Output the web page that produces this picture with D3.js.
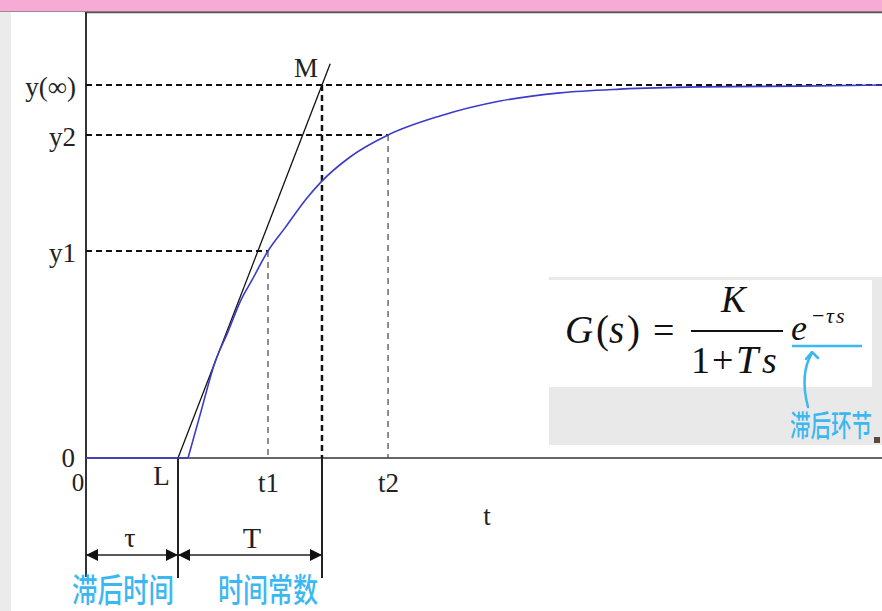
<!DOCTYPE html>
<html>
<head>
<meta charset="utf-8">
<script src="https://cdn.jsdelivr.net/npm/d3@7/dist/d3.min.js"></script>
<style>
  html, body { margin: 0; padding: 0; background: #fff; }
  svg { display: block; }
  .lbl { font-family: "Liberation Serif", "Times New Roman", serif; fill: #222; }
  .cn { font-family: "Noto Sans CJK SC", sans-serif; fill: #3bb8f1; font-weight: 500; }
</style>
</head>
<body>
<svg id="chart" width="882" height="611"></svg>
<script>
// Step response of a first-order process with dead time (time in arbitrary units, output normalised to y(∞) = 1)
const curveT = [0, 1.109, 1.239, 1.402, 1.543, 1.685, 1.804, 1.978, 2.163, 2.402, 2.543, 2.870, 3.283, 3.848, 4.500, 5.152, 5.804, 6.674, 7.761, 8.652];
const curveY = [0, 0, 0.115, 0.257, 0.338, 0.424, 0.477, 0.555, 0.617, 0.697, 0.737, 0.807, 0.866, 0.917, 0.957, 0.979, 0.989, 0.995, 0.997, 1.0];

// Output levels marked on the vertical axis
const levelNames = ["0", "y1", "y2", "y(∞)"];
const levelValues = [0, 0.555, 0.866, 1.0];

// Time marks on the horizontal axis
const markNames = ["L", "t1", "t2"];
const markTimes = [1.0, 1.978, 3.283];

const deadTime = 1.0;       // τ (= L)
const timeConst = 1.565;    // T
const tangentReach = 1.057; // how far the tangent line runs past y(∞)

const W = 882, H = 611;
const svg = d3.select("#chart");

const x = d3.scaleLinear().domain([0, 8.652]).range([86, 882]);
const y = d3.scaleLinear().domain([0, 1]).range([458, 85]);

// page backdrop: pink header band and grey strip on the left
svg.append("rect").attr("x", 0).attr("y", 0).attr("width", W).attr("height", H).attr("fill", "#fff");
svg.append("rect").attr("x", 0).attr("y", 11).attr("width", 11).attr("height", H - 11).attr("fill", "#ebebeb");
svg.append("rect").attr("x", 0).attr("y", 0).attr("width", W).attr("height", 11).attr("fill", "#f7aad3");
svg.append("line").attr("x1", 0).attr("x2", W).attr("y1", 11.5).attr("y2", 11.5).attr("stroke", "#9a8a94").attr("stroke-width", 1);

// plot frame: top edge, vertical axis and horizontal axis
svg.append("line").attr("x1", x(0)).attr("x2", W).attr("y1", 12.5).attr("y2", 12.5).attr("stroke", "#555").attr("stroke-width", 1.5);
svg.append("line").attr("x1", x(0)).attr("x2", x(0)).attr("y1", 12).attr("y2", 577).attr("stroke", "#333").attr("stroke-width", 2);
svg.append("line").attr("x1", x(0)).attr("x2", W).attr("y1", y(0)).attr("y2", y(0)).attr("stroke", "#666").attr("stroke-width", 2);

// formula panel
svg.append("rect").attr("x", 549).attr("y", 277).attr("width", 333).attr("height", 168).attr("fill", "#e9e9e9");
svg.append("rect").attr("x", 549).attr("y", 280).attr("width", 323).attr("height", 107).attr("fill", "#fff");
svg.append("rect").attr("x", 874).attr("y", 437).attr("width", 6).attr("height", 6).attr("fill", "#5b4a3c");

// horizontal guide lines for y(∞), y2, y1
const tEnd = x.domain()[1];
const guides = [
  { v: levelValues[3], t: tEnd },
  { v: levelValues[2], t: markTimes[2] },
  { v: levelValues[1], t: markTimes[1] }
];
svg.selectAll("line.hguide").data(guides).enter().append("line")
  .attr("class", "hguide")
  .attr("x1", x(0)).attr("x2", d => x(d.t))
  .attr("y1", d => y(d.v)).attr("y2", d => y(d.v))
  .attr("stroke", "#111").attr("stroke-width", 2).attr("stroke-dasharray", "6,4");

// vertical guides from the curve down to the time axis at t1, t2
const vguides = [
  { t: markTimes[1], v: levelValues[1] },
  { t: markTimes[2], v: levelValues[2] }
];
svg.selectAll("line.vguide").data(vguides).enter().append("line")
  .attr("class", "vguide")
  .attr("x1", d => x(d.t)).attr("x2", d => x(d.t))
  .attr("y1", d => y(d.v)).attr("y2", y(0))
  .attr("stroke", "#444").attr("stroke-width", 1.2).attr("stroke-dasharray", "6,5");

// vertical line at L + T (tangent meets y(∞))
const tM = deadTime + timeConst;
svg.append("line")
  .attr("x1", x(tM)).attr("x2", x(tM)).attr("y1", y(1)).attr("y2", y(0))
  .attr("stroke", "#111").attr("stroke-width", 2.5).attr("stroke-dasharray", "6,4");

// solid marker lines below the time axis
[deadTime, tM].forEach(t => {
  svg.append("line").attr("x1", x(t)).attr("x2", x(t)).attr("y1", y(0)).attr("y2", 578)
    .attr("stroke", "#222").attr("stroke-width", 2);
});

// tangent at the inflection point
svg.append("line")
  .attr("x1", x(deadTime)).attr("y1", y(0))
  .attr("x2", x(deadTime + tangentReach * timeConst)).attr("y2", y(tangentReach))
  .attr("stroke", "#111").attr("stroke-width", 1.3);

// response curve: flat dead-time part, then the smooth rise
const pts = curveT.map((t, i) => [t, curveY[i]]);
const curveColor = "#3a3acb";
const line = d3.line().x(d => x(d[0])).y(d => y(d[1]));
svg.append("path").datum(pts.slice(0, 2))
  .attr("fill", "none").attr("stroke", curveColor).attr("stroke-width", 1.6)
  .attr("d", line);
svg.append("path").datum(pts.slice(1))
  .attr("fill", "none").attr("stroke", curveColor).attr("stroke-width", 1.6)
  .attr("d", line.curve(d3.curveMonotoneX));

// vertical axis labels
const yAxis = d3.axisLeft(y).tickValues(levelValues).tickFormat((d, i) => levelNames[i]).tickSize(0).tickPadding(10);
const gy = svg.append("g").attr("transform", `translate(${x(0)},0)`).call(yAxis);
gy.select(".domain").remove();
gy.selectAll("text").attr("class", "lbl").attr("font-size", 27).attr("dy", "0.4em")
  .attr("fill", "#222").style("font-family", '"Liberation Serif", serif');
gy.selectAll("text").filter((d, i) => i === 0).attr("x", -11).attr("dy", "0.3em");

// time axis labels
const xAxis = d3.axisBottom(x).tickValues(markTimes).tickFormat((d, i) => markNames[i]).tickSize(0).tickPadding(15);
const gx = svg.append("g").attr("transform", `translate(0,${y(0)})`).call(xAxis);
gx.select(".domain").remove();
gx.selectAll("text").attr("font-size", 27).attr("fill", "#222").style("font-family", '"Liberation Serif", serif');
gx.selectAll("text").filter((d, i) => i === 0).attr("dx", -17).attr("y", 8);

const label = (txt, cx, by, size, anchor) =>
  svg.append("text").attr("class", "lbl").attr("x", cx).attr("y", by)
    .attr("font-size", size).attr("text-anchor", anchor || "middle").text(txt);

label("0", 78, 491, 25);
label("t", 487, 525, 27);
label("M", 306, 77, 27);
label("τ", 130, 547, 28);
label("T", 252, 548, 30);

// dimension arrows for τ and T
const arrowY = 555;
function dimArrow(t0, t1) {
  const a = x(t0), b = x(t1);
  svg.append("line").attr("x1", a).attr("x2", b).attr("y1", arrowY).attr("y2", arrowY)
    .attr("stroke", "#222").attr("stroke-width", 1.5);
  svg.append("path").attr("d", `M${a},${arrowY} L${a + 12},${arrowY - 6} L${a + 12},${arrowY + 6} Z`).attr("fill", "#111");
  svg.append("path").attr("d", `M${b},${arrowY} L${b - 12},${arrowY - 6} L${b - 12},${arrowY + 6} Z`).attr("fill", "#111");
}
dimArrow(0, deadTime);
dimArrow(deadTime, tM);

// transfer function G(s) = K/(1+Ts) e^{-τs}
const ff = '"Liberation Serif", "Times New Roman", serif';
const fx = (txt, px, py, size, italic) =>
  svg.append("text").attr("x", px).attr("y", py).attr("font-size", size)
    .attr("font-style", italic ? "italic" : "normal")
    .style("font-family", ff).attr("fill", "#111").text(txt);

fx("G", 565, 343, 39, true);
fx("(", 596, 343, 39, false);
fx("s", 609, 343, 39, true);
fx(")", 627, 343, 39, false);
fx("=", 653, 343, 38, false);
fx("K", 721, 312, 37, true);
svg.append("line").attr("x1", 691).attr("x2", 783).attr("y1", 331).attr("y2", 331).attr("stroke", "#111").attr("stroke-width", 2);
fx("1", 691, 373, 38, false);
fx("+", 712, 373, 38, false);
fx("T", 736, 373, 40, true);
fx("s", 762, 373, 38, true);
fx("e", 791, 340, 36, true);
fx("−", 812, 323, 22, false);
fx("τ", 826, 323, 22, true);
fx("s", 836, 323, 22, true);

// handwritten-style notes
const accent = "#3bb8f1";
svg.append("line").attr("x1", 792).attr("x2", 862).attr("y1", 346).attr("y2", 346)
  .attr("stroke", accent).attr("stroke-width", 2.5);
svg.append("path").attr("d", "M808,407 C803,388 803,368 812,353")
  .attr("fill", "none").attr("stroke", accent).attr("stroke-width", 2.5).attr("stroke-linecap", "round");
svg.append("path").attr("d", "M806,359 L812,352 L818,358")
  .attr("fill", "none").attr("stroke", accent).attr("stroke-width", 2.5).attr("stroke-linecap", "round").attr("stroke-linejoin", "round");

const note = (txt, px, py, size, sy) =>
  svg.append("text").attr("class", "cn")
    .attr("transform", `translate(${px},${py}) scale(1,${sy})`)
    .attr("font-size", size).text(txt);

note("滞后环节", 790, 436, 20.5, 1.45);
note("滞后时间", 72, 602, 25.5, 1.3);
note("时间常数", 218, 602, 25, 1.3);
</script>
</body>
</html>
